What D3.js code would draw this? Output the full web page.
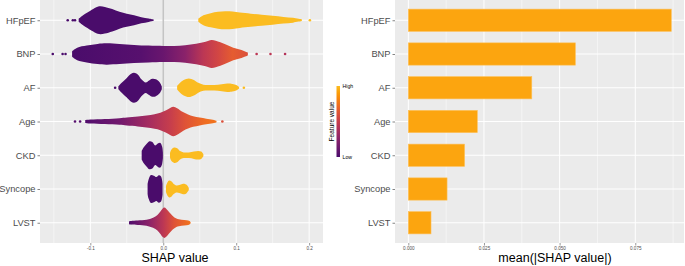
<!DOCTYPE html>
<html>
<head>
<meta charset="utf-8">
<script src="https://cdn.jsdelivr.net/npm/d3@7"></script>
<style>
  body { margin: 0; background: #fff; }
  text { font-family: "Liberation Sans", Arial, sans-serif; }
</style>
</head>
<body>
<svg id="chart" width="685" height="266"></svg>
<script>
// features, top to bottom
var features = ["HFpEF", "BNP", "AF", "Age", "CKD", "Syncope", "LVST"];
var meanAbsShap = [0.0869, 0.0552, 0.0408, 0.0228, 0.0186, 0.0128, 0.0075];

var shapTicks = [-0.1, 0.0, 0.1, 0.2];
var shapMinor = [-0.15, -0.05, 0.05, 0.15];
var meanTicks = [0.000, 0.025, 0.050, 0.075];
var meanMinor = [0.0125, 0.0375, 0.0625, 0.0875];

// beeswarm outlines: [shap value, relative half width]
var hfpefLow  = [[-0.116,0.1],[-0.110,0.35],[-0.104,0.55],[-0.098,0.75],[-0.090,0.97],[-0.086,1.0],[-0.080,0.95],[-0.070,0.8],[-0.060,0.6],[-0.050,0.47],[-0.040,0.35],[-0.030,0.22],[-0.020,0.12],[-0.013,0.04]];
var hfpefHigh = [[0.048,0.1],[0.055,0.35],[0.065,0.5],[0.075,0.6],[0.085,0.64],[0.095,0.62],[0.105,0.55],[0.120,0.47],[0.135,0.4],[0.150,0.32],[0.165,0.24],[0.178,0.17],[0.190,0.06]];
var bnpAll    = [[-0.125,0.2],[-0.118,0.45],[-0.105,0.6],[-0.090,0.72],[-0.078,0.76],[-0.060,0.72],[-0.040,0.65],[-0.020,0.6],[0.000,0.57],[0.015,0.57],[0.030,0.63],[0.045,0.74],[0.058,0.88],[0.066,1.0],[0.072,0.95],[0.085,0.7],[0.096,0.45],[0.106,0.3],[0.116,0.1]];
var afLow     = [[-0.0616,0.1],[-0.057,0.35],[-0.050,0.7],[-0.044,1.0],[-0.040,1.07],[-0.035,0.95],[-0.030,0.6],[-0.024,0.37],[-0.020,0.5],[-0.015,0.64],[-0.010,0.6],[-0.005,0.4],[-0.002,0.1]];
var afHigh    = [[0.019,0.12],[0.023,0.35],[0.028,0.55],[0.035,0.66],[0.042,0.55],[0.048,0.35],[0.055,0.22],[0.065,0.2],[0.075,0.22],[0.085,0.28],[0.093,0.29],[0.100,0.2],[0.104,0.06]];
var ageAll    = [[-0.107,0.1],[-0.100,0.14],[-0.080,0.18],[-0.060,0.24],[-0.050,0.29],[-0.035,0.35],[-0.023,0.43],[-0.012,0.52],[-0.004,0.62],[0.004,0.8],[0.010,0.98],[0.014,1.05],[0.019,0.95],[0.027,0.67],[0.034,0.5],[0.041,0.38],[0.050,0.28],[0.059,0.2],[0.068,0.13],[0.073,0.05]];
var ckdLow    = [[-0.0296,0.3],[-0.027,0.55],[-0.023,0.8],[-0.019,1.0],[-0.015,0.95],[-0.011,0.7],[-0.007,0.85],[-0.004,0.88],[-0.0015,0.6],[-0.0005,0.2]];
var ckdHigh   = [[0.0092,0.15],[0.011,0.4],[0.015,0.55],[0.019,0.5],[0.023,0.3],[0.028,0.2],[0.035,0.2],[0.042,0.26],[0.048,0.31],[0.052,0.26],[0.055,0.08]];
var syncLow   = [[-0.0215,0.35],[-0.020,0.7],[-0.017,1.0],[-0.013,0.95],[-0.0095,0.85],[-0.006,0.98],[-0.003,0.9],[-0.001,0.4]];
var syncHigh  = [[0.0037,0.2],[0.0055,0.45],[0.008,0.6],[0.011,0.55],[0.014,0.38],[0.018,0.25],[0.022,0.28],[0.026,0.36],[0.029,0.38],[0.032,0.3],[0.035,0.08]];
var lvstAll   = [[-0.047,0.1],[-0.044,0.13],[-0.035,0.16],[-0.023,0.21],[-0.014,0.36],[-0.008,0.55],[-0.0045,0.76],[-0.001,1.0],[0.0015,1.08],[0.004,1.0],[0.0092,0.69],[0.013,0.48],[0.018,0.3],[0.025,0.22],[0.032,0.17],[0.036,0.12],[0.0375,0.04]];

// feature value along each shape: [shap value, scaled feature value 0..1]
var lowStops  = [[-1,0],[1,0]];
var highStops = [[-1,1],[1,1]];
var bnpStops  = [[-0.15,0.0],[-0.03,0.05],[0.0,0.12],[0.03,0.25],[0.055,0.45],[0.075,0.55],[0.095,0.66],[0.12,0.6]];
var ageStops  = [[-0.11,0.03],[-0.06,0.15],[-0.02,0.36],[0.01,0.5],[0.03,0.62],[0.06,0.74],[0.075,0.75]];
var lvstStops = [[-0.047,0.02],[-0.02,0.25],[0.0,0.45],[0.015,0.62],[0.0375,0.76]];

// single points outside the swarms: [feature, shap value, scaled feature value]
var outliers = [
  ["HFpEF",-0.131,0],["HFpEF",-0.124,0],["HFpEF",-0.121,0],["HFpEF",0.201,1],
  ["BNP",-0.1515,0],["BNP",-0.138,0],["BNP",-0.134,0],["BNP",0.128,0.45],["BNP",0.147,0.45],["BNP",0.167,0.42],
  ["AF",-0.066,0],["AF",0.1105,1],
  ["Age",-0.121,0.05],["Age",-0.114,0.05],["Age",0.081,0.6]
];

var shapes = [
  {f:"HFpEF", p:hfpefLow, c:lowStops}, {f:"HFpEF", p:hfpefHigh, c:highStops},
  {f:"BNP", p:bnpAll, c:bnpStops},
  {f:"AF", p:afLow, c:lowStops}, {f:"AF", p:afHigh, c:highStops},
  {f:"Age", p:ageAll, c:ageStops},
  {f:"CKD", p:ckdLow, c:lowStops}, {f:"CKD", p:ckdHigh, c:highStops},
  {f:"Syncope", p:syncLow, c:lowStops}, {f:"Syncope", p:syncHigh, c:highStops},
  {f:"LVST", p:lvstAll, c:lvstStops}
];

var col = function(t){ return d3.interpolateInferno(0.22 + 0.625 * t); };

var svg = d3.select("#chart");
var defs = svg.append("defs");

var panelTop = 0, panelBot = 243;
var y = d3.scalePoint().domain(features).range([panelTop, panelBot]).padding(0.6);
var step = y.step();

// ---------- left: beeswarm ----------
var xL = d3.scaleLinear().domain([-0.169, 0.219]).range([40, 323]);
var wScale = d3.scaleLinear().domain([0, 1]).range([0, step * 0.415]);

var left = svg.append("g");
left.append("rect").attr("x", 40).attr("y", panelTop).attr("width", 283).attr("height", panelBot - panelTop).attr("fill", "#ebebeb");

left.selectAll("line.minor").data(shapMinor).enter().append("line")
  .attr("x1", xL).attr("x2", xL).attr("y1", panelTop).attr("y2", panelBot)
  .attr("stroke", "#fff").attr("stroke-width", 0.5);
left.selectAll("line.majx").data(shapTicks).enter().append("line")
  .attr("x1", xL).attr("x2", xL).attr("y1", panelTop).attr("y2", panelBot)
  .attr("stroke", "#fff").attr("stroke-width", 1);
left.selectAll("line.majy").data(features).enter().append("line")
  .attr("x1", 40).attr("x2", 323).attr("y1", y).attr("y2", y)
  .attr("stroke", "#fff").attr("stroke-width", 1);

left.append("line").attr("x1", xL(0)).attr("x2", xL(0)).attr("y1", panelTop).attr("y2", panelBot)
  .attr("stroke", "#c4c4c4").attr("stroke-width", 1.6);

shapes.forEach(function(s, i){
  var gid = "grad" + i;
  var lo = d3.min(s.p, function(d){ return d[0]; }), hi = d3.max(s.p, function(d){ return d[0]; });
  var g = defs.append("linearGradient").attr("id", gid).attr("gradientUnits", "userSpaceOnUse")
    .attr("x1", xL(lo)).attr("x2", xL(hi)).attr("y1", 0).attr("y2", 0);
  s.c.forEach(function(st){
    var off = Math.max(0, Math.min(1, (st[0] - lo) / (hi - lo)));
    g.append("stop").attr("offset", off).attr("stop-color", col(st[1]));
  });
  var cy = y(s.f);
  var area = d3.area()
    .x(function(d){ return xL(d[0]); })
    .y0(function(d){ return cy - wScale(d[1]); })
    .y1(function(d){ return cy + wScale(d[1]); })
    .curve(d3.curveCatmullRom);
  left.append("path").datum(s.p).attr("d", area).attr("fill", "url(#" + gid + ")");
});

left.selectAll("circle.out").data(outliers).enter().append("circle")
  .attr("cx", function(d){ return xL(d[1]); })
  .attr("cy", function(d){ return y(d[0]); })
  .attr("r", 1.3)
  .attr("fill", function(d){ return col(d[2]); });

var axL = svg.append("g").attr("transform", "translate(40,0)")
  .call(d3.axisLeft(y).tickSize(2.5).tickPadding(2));
var axLx = svg.append("g").attr("transform", "translate(0," + panelBot + ")")
  .call(d3.axisBottom(xL).tickValues(shapTicks).tickSize(2.5).tickPadding(1.5)
    .tickFormat(function(d){ return d.toFixed(1); }));

svg.append("text").attr("x", 175).attr("y", 262).attr("text-anchor", "middle")
  .attr("font-size", 12.5).attr("fill", "#000").text("SHAP value");

// ---------- legend ----------
var leg = defs.append("linearGradient").attr("id", "legGrad").attr("x1", 0).attr("x2", 0).attr("y1", 1).attr("y2", 0);
d3.range(0, 1.01, 0.1).forEach(function(t){
  leg.append("stop").attr("offset", t).attr("stop-color", col(t));
});
svg.append("rect").attr("x", 336.5).attr("y", 86).attr("width", 3.5).attr("height", 71).attr("fill", "url(#legGrad)");
svg.append("text").attr("x", 342.5).attr("y", 88).attr("font-size", 5.2).attr("fill", "#000").text("High");
svg.append("text").attr("x", 342.5).attr("y", 159).attr("font-size", 5.2).attr("fill", "#000").text("Low");
svg.append("text").attr("transform", "translate(333.5,121.5) rotate(-90)").attr("text-anchor", "middle")
  .attr("font-size", 6.5).attr("fill", "#000").text("Feature value");

// ---------- right: mean |SHAP| bars ----------
var xR = d3.scaleLinear().domain([-0.0044, 0.0911]).range([395, 684]);
var right = svg.append("g");
right.append("rect").attr("x", 395).attr("y", panelTop).attr("width", 289).attr("height", panelBot - panelTop).attr("fill", "#ebebeb");
right.selectAll("line.minor").data(meanMinor).enter().append("line")
  .attr("x1", xR).attr("x2", xR).attr("y1", panelTop).attr("y2", panelBot)
  .attr("stroke", "#fff").attr("stroke-width", 0.5);
right.selectAll("line.majx").data(meanTicks).enter().append("line")
  .attr("x1", xR).attr("x2", xR).attr("y1", panelTop).attr("y2", panelBot)
  .attr("stroke", "#fff").attr("stroke-width", 1);
right.selectAll("line.majy").data(features).enter().append("line")
  .attr("x1", 395).attr("x2", 684).attr("y1", y).attr("y2", y)
  .attr("stroke", "#fff").attr("stroke-width", 1);

var barH = step * 0.66;
right.selectAll("rect.bar").data(features).enter().append("rect")
  .attr("x", xR(0))
  .attr("y", function(d){ return y(d) - barH / 2; })
  .attr("width", function(d, i){ return xR(meanAbsShap[i]) - xR(0); })
  .attr("height", barH)
  .attr("fill", "#fca50f")
  .attr("stroke", "#fdc15a").attr("stroke-width", 0.6);

var axR = svg.append("g").attr("transform", "translate(395,0)")
  .call(d3.axisLeft(y).tickSize(2.5).tickPadding(2));
var axRx = svg.append("g").attr("transform", "translate(0," + panelBot + ")")
  .call(d3.axisBottom(xR).tickValues(meanTicks).tickSize(2.5).tickPadding(1.5)
    .tickFormat(function(d){ return d.toFixed(3); }));

svg.append("text").attr("x", 555).attr("y", 262).attr("text-anchor", "middle")
  .attr("font-size", 12.5).attr("fill", "#000").text("mean(|SHAP value|)");

// axis styling, ggplot grey look
[axL, axR].forEach(function(a){
  a.select(".domain").remove();
  a.selectAll(".tick line").attr("stroke", "#333").attr("stroke-width", 0.6);
  a.selectAll(".tick text").attr("font-size", 9.3).attr("fill", "#4d4d4d")
    .attr("font-family", "Liberation Sans, Arial, sans-serif");
});
[axLx, axRx].forEach(function(a){
  a.select(".domain").remove();
  a.selectAll(".tick line").attr("stroke", "#333").attr("stroke-width", 0.5);
  a.selectAll(".tick text").attr("font-size", 4.6).attr("fill", "#4d4d4d")
    .attr("font-family", "Liberation Sans, Arial, sans-serif");
});
</script>
</body>
</html>
